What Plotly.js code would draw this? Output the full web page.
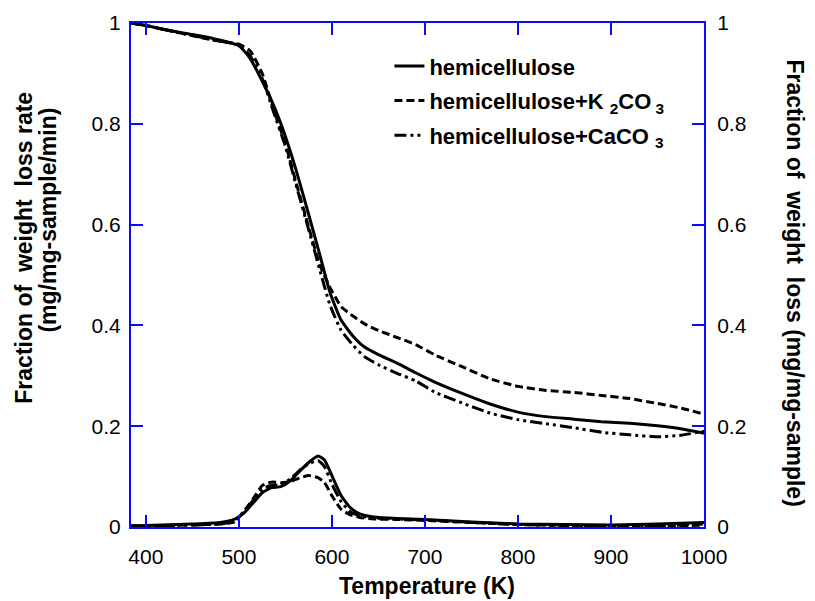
<!DOCTYPE html>
<html>
<head>
<meta charset="utf-8">
<script src="https://cdn.plot.ly/plotly-3.0.1.min.js"></script>
<style>html,body{margin:0;padding:0;background:#fff;}#chart{width:815px;height:601px;}</style>
</head>
<body>
<div id="chart"></div>
<script>
// ---- Data: weight fraction (TG), right axis ----
const tgTemp = [384, 400, 425, 450, 475, 500, 512, 525, 537, 550, 562, 575, 587, 598, 610, 623, 635, 650, 670, 690, 710, 740, 770, 800, 830, 860, 890, 920, 950, 975, 1000];
const tgHemi = [1.0, 0.995, 0.985, 0.977, 0.968, 0.955, 0.93, 0.885, 0.838, 0.775, 0.705, 0.62, 0.54, 0.465, 0.41, 0.378, 0.357, 0.342, 0.325, 0.306, 0.288, 0.265, 0.244, 0.228, 0.219, 0.214, 0.209, 0.206, 0.201, 0.195, 0.186];
const tgK2CO3 = [1.0, 0.995, 0.985, 0.975, 0.965, 0.958, 0.945, 0.9, 0.83, 0.76, 0.68, 0.595, 0.52, 0.475, 0.437, 0.418, 0.403, 0.39, 0.376, 0.362, 0.342, 0.318, 0.294, 0.279, 0.271, 0.267, 0.261, 0.255, 0.245, 0.236, 0.224];
const tgCaCO3 = [1.0, 0.995, 0.985, 0.975, 0.966, 0.956, 0.935, 0.89, 0.825, 0.755, 0.675, 0.59, 0.51, 0.44, 0.39, 0.36, 0.338, 0.322, 0.305, 0.29, 0.268, 0.246, 0.226, 0.213, 0.205, 0.197, 0.188, 0.183, 0.179, 0.182, 0.19];

// ---- Data: weight loss rate (DTG), left axis ----
const dtgTemp = [384, 400, 450, 480, 495, 505, 515, 525, 535, 545, 555, 565, 575, 585, 592, 600, 610, 620, 630, 645, 670, 700, 750, 800, 850, 900, 950, 1000];
const dtgHemi = [0.002, 0.003, 0.006, 0.009, 0.015, 0.027, 0.047, 0.068, 0.078, 0.08, 0.091, 0.11, 0.128, 0.141, 0.133, 0.102, 0.062, 0.038, 0.026, 0.02, 0.017, 0.015, 0.01, 0.006, 0.005, 0.004, 0.006, 0.009];
const dtgK2CO3 = [0.002, 0.002, 0.004, 0.006, 0.01, 0.03, 0.055, 0.082, 0.089, 0.088, 0.09, 0.097, 0.102, 0.098, 0.088, 0.062, 0.035, 0.024, 0.019, 0.016, 0.015, 0.013, 0.009, 0.005, 0.003, 0.002, 0.001, 0.004];
const dtgCaCO3 = [0.002, 0.002, 0.004, 0.006, 0.012, 0.03, 0.052, 0.075, 0.083, 0.084, 0.095, 0.112, 0.125, 0.132, 0.12, 0.085, 0.05, 0.03, 0.022, 0.018, 0.016, 0.014, 0.009, 0.005, 0.003, 0.001, 0.002, 0.006];

const seriesNames = ['hemicellulose', 'hemicellulose+K <sub>2</sub>CO<sub> 3</sub>', 'hemicellulose+CaCO <sub>3</sub>'];
const xTicks = [400, 500, 600, 700, 800, 900, 1000];
const yTicks = [0, 0.2, 0.4, 0.6, 0.8, 1];
const yTickText = ['0', '0.2', '0.4', '0.6', '0.8', '1'];

const dashes = ['solid', '8px,4px', '12px,4px,3px,4px,3px,4px'];
const tgSeries = [tgHemi, tgK2CO3, tgCaCO3];
const dtgSeries = [dtgHemi, dtgK2CO3, dtgCaCO3];

const traces = [];
for (let i = 0; i < 3; i++) {
  traces.push({
    x: tgTemp, y: tgSeries[i], yaxis: 'y2', type: 'scatter', mode: 'lines',
    name: seriesNames[i], legendgroup: 'g' + i,
    line: {color: '#000', width: 3, dash: dashes[i], shape: 'spline', smoothing: 0.5}
  });
}
for (let i = 0; i < 3; i++) {
  traces.push({
    x: dtgTemp, y: dtgSeries[i], yaxis: 'y', type: 'scatter', mode: 'lines',
    name: seriesNames[i], legendgroup: 'g' + i, showlegend: false,
    line: {color: '#000', width: 3, dash: dashes[i], shape: 'spline', smoothing: 0.5}
  });
}

const blue = '#0a0aff';
const tickFont = {family: 'Liberation Sans, Arial, sans-serif', size: 21, color: '#000'};
const legendFont = {family: 'Liberation Sans, Arial, sans-serif', size: 22, color: '#000', weight: 'bold'};
const titleFont = {family: 'Liberation Sans, Arial, sans-serif', size: 23, color: '#000', weight: 'bold'};

const layout = {
  width: 815, height: 601,
  margin: {l: 131, r: 111, t: 23, b: 74},
  paper_bgcolor: '#fff', plot_bgcolor: '#fff',
  showlegend: true,
  legend: {
    x: 0.451, y: 0.956, xanchor: 'left', yanchor: 'top',
    bgcolor: 'rgba(0,0,0,0)', font: legendFont, tracegroupgap: 3
  },
  xaxis: {
    range: [384, 1000], tickvals: xTicks, ticks: 'inside', ticklen: 12, tickwidth: 2,
    tickcolor: blue, showline: true, linecolor: blue, linewidth: 2, mirror: 'ticks',
    showgrid: false, zeroline: false, tickfont: tickFont, ticklabelstandoff: 10
  },
  yaxis: {
    range: [0, 1], tickvals: yTicks, ticktext: yTickText, ticks: 'inside', ticklen: 12, tickwidth: 2,
    tickcolor: blue, showline: true, linecolor: blue, linewidth: 2,
    showgrid: false, zeroline: false, tickfont: tickFont, ticklabelstandoff: 4
  },
  yaxis2: {
    range: [0, 1], tickvals: yTicks, ticktext: yTickText, overlaying: 'y', side: 'right',
    ticks: 'inside', ticklen: 12, tickwidth: 2,
    tickcolor: blue, showline: true, linecolor: blue, linewidth: 2,
    showgrid: false, zeroline: false, tickfont: tickFont, ticklabelstandoff: 7
  },
  annotations: [
    {text: 'Temperature (K)', xref: 'paper', yref: 'paper', x: 0.517, y: -0.118, xanchor: 'center', yanchor: 'middle', showarrow: false, font: titleFont},
    {text: 'Fraction of  weight  loss rate', xref: 'paper', yref: 'paper', x: -0.186, y: 0.555, xanchor: 'center', yanchor: 'middle', textangle: -90, showarrow: false, font: titleFont},
    {text: '(mg/mg-sample/min)', xref: 'paper', yref: 'paper', x: -0.144, y: 0.609, xanchor: 'center', yanchor: 'middle', textangle: -90, showarrow: false, font: titleFont},
    {text: 'Fraction of  weight  loss (mg/mg-sample)', xref: 'paper', yref: 'paper', x: 1.158, y: 0.484, xanchor: 'center', yanchor: 'middle', textangle: 90, showarrow: false, font: titleFont}
  ]
};

Plotly.newPlot('chart', traces, layout, {displayModeBar: false, staticPlot: true});
</script>
</body>
</html>
